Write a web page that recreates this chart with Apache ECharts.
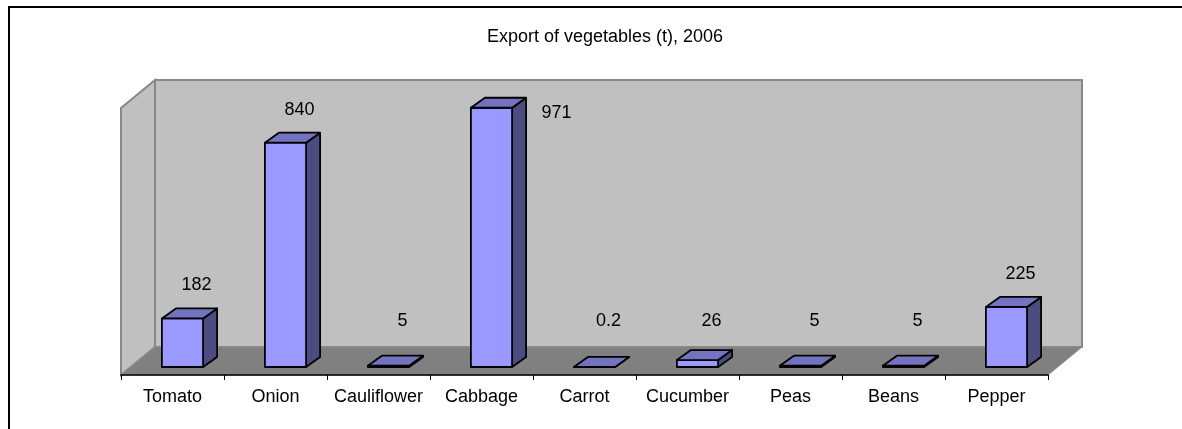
<!DOCTYPE html>
<html>
<head>
<meta charset="utf-8">
<script src="https://cdn.jsdelivr.net/npm/echarts@6/dist/echarts.min.js"></script>
<style>
  html, body { margin: 0; padding: 0; background: #fff; }
  #chart { width: 1182px; height: 429px; }
</style>
</head>
<body>
<div id="chart"></div>
<script>
// ---- data ----
const titleText = 'Export of vegetables (t), 2006';
const categories = ['Tomato', 'Onion', 'Cauliflower', 'Cabbage', 'Carrot', 'Cucumber', 'Peas', 'Beans', 'Pepper'];
const values = [182, 840, 5, 971, 0.2, 26, 5, 5, 225];
const yMin = 0;
const yMax = 1000;

// ---- style constants ----
const FONT = "'Liberation Sans', Arial, sans-serif";
const WALL_DX = -34, WALL_DY = 28;       // floor depth (back plane -> front plane)
const BAR_SHIFT_X = -24, BAR_SHIFT_Y = 20; // bar front face relative to back plane
const BAR_DX = 14, BAR_DY = -10;         // bar depth
const BAR_FRAC = 0.4;

const chart = echarts.init(document.getElementById('chart'), null, { renderer: 'canvas' });

function renderFrame(params, api) {
  const first = api.coord([0, yMin]);
  const last = api.coord([categories.length - 1, yMin]);
  const topY = api.coord([0, yMax])[1];
  const bw = api.size([1, 0])[0];
  const lb = first[0] - bw / 2;
  const rb = last[0] + bw / 2;
  const fy = first[1];
  return {
    type: 'group',
    children: [
      {
        type: 'polygon',
        shape: { points: [[lb, fy], [rb, fy], [rb + WALL_DX, fy + WALL_DY], [lb + WALL_DX, fy + WALL_DY]] },
        style: { fill: '#808080', stroke: '#8a8a8a', lineWidth: 1 }
      },
      {
        type: 'polygon',
        shape: { points: [[lb, topY], [lb + WALL_DX, topY + WALL_DY], [lb + WALL_DX, fy + WALL_DY], [lb, fy]] },
        style: { fill: '#C0C0C0', stroke: '#888888', lineWidth: 2 }
      }
    ]
  };
}

function renderBar(params, api) {
  const i = api.value(0);
  const v = api.value(1);
  const base = api.coord([i, yMin]);
  const top = api.coord([i, v]);
  const wallTop = api.coord([i, yMax])[1];
  const bw = api.size([1, 0])[0];
  const w = bw * BAR_FRAC;
  const cx = base[0] + BAR_SHIFT_X;
  const yb = base[1] + BAR_SHIFT_Y;
  const yt = top[1] + BAR_SHIFT_Y;
  const x0 = cx - w / 2, x1 = cx + w / 2;
  const edge = { stroke: '#000', lineWidth: 1.8, lineJoin: 'round' };

  let lx = cx + 14;
  let ly = Math.min(yt - 33, yb - 46);
  if (ly < wallTop) {
    lx = cx + 65;
    ly = yt + 5;
  }
  return {
    type: 'group',
    children: [
      {
        type: 'polygon',
        shape: { points: [[x1, yt], [x1 + BAR_DX, yt + BAR_DY], [x1 + BAR_DX, yb + BAR_DY], [x1, yb]] },
        style: Object.assign({ fill: '#4C4C80' }, edge)
      },
      {
        type: 'rect',
        shape: { x: x0, y: yt, width: w, height: yb - yt },
        style: Object.assign({ fill: '#9999FF' }, edge)
      },
      {
        type: 'polygon',
        shape: { points: [[x0, yt], [x1, yt], [x1 + BAR_DX, yt + BAR_DY], [x0 + BAR_DX, yt + BAR_DY]] },
        style: Object.assign({ fill: '#7373BF' }, edge)
      },
      {
        type: 'text',
        x: lx, y: ly,
        style: {
          text: String(values[i]),
          fill: '#000',
          font: '18px ' + FONT,
          align: 'center',
          verticalAlign: 'middle'
        }
      }
    ]
  };
}

const option = {
  animation: false,
  backgroundColor: '#fff',
  title: {
    text: titleText,
    left: 600,
    top: 23,
    textAlign: 'center',
    textStyle: { fontFamily: FONT, fontSize: 18, fontWeight: 'normal', color: '#000', lineHeight: 18 }
  },
  graphic: [
    {
      type: 'rect',
      shape: { x: 9, y: 7, width: 1400, height: 600 },
      style: { fill: 'none', stroke: '#000', lineWidth: 2 },
      silent: true,
      z: 100
    }
  ],
  grid: [
    { left: 155, top: 80, width: 927, height: 267, show: true, backgroundColor: '#C0C0C0', borderColor: '#888888', borderWidth: 2 },
    { left: 121, top: 107, width: 927, height: 268, show: false }
  ],
  xAxis: [
    { type: 'category', gridIndex: 0, data: categories, show: false, boundaryGap: true },
    {
      type: 'category', gridIndex: 1, data: categories, boundaryGap: true, z: 10,
      axisLine: { show: true, lineStyle: { color: '#000', width: 1.5 } },
      axisTick: { show: true, length: 5, lineStyle: { color: '#000', width: 1 } },
      axisLabel: { interval: 0, margin: 13, color: '#000', fontFamily: FONT, fontSize: 18, lineHeight: 18 },
      splitLine: { show: false }
    }
  ],
  yAxis: [
    { type: 'value', gridIndex: 0, min: yMin, max: yMax, show: false, splitLine: { show: false } },
    { type: 'value', gridIndex: 1, min: yMin, max: yMax, show: false, splitLine: { show: false } }
  ],
  series: [
    {
      type: 'custom', name: 'frame', xAxisIndex: 0, yAxisIndex: 0, z: 1,
      data: [[0, 0]], encode: { x: 0, y: 1 },
      renderItem: renderFrame, silent: true, clip: false
    },
    {
      type: 'custom', name: 'Export (t)', xAxisIndex: 0, yAxisIndex: 0, z: 3,
      data: values.map((v, i) => [i, v]), encode: { x: 0, y: 1 },
      renderItem: renderBar, clip: false
    }
  ]
};
chart.setOption(option);
</script>
</body>
</html>
